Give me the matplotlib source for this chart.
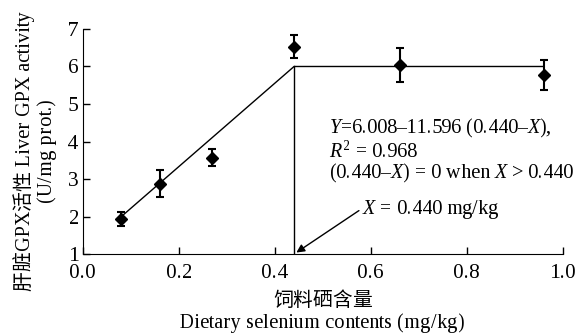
import matplotlib
matplotlib.use('Agg')
from matplotlib import pyplot as plt

plt.rcParams['font.family'] = ['Liberation Serif', 'Noto Sans CJK SC']
plt.rcParams['mathtext.fontset'] = 'custom'
plt.rcParams['mathtext.rm'] = 'Liberation Serif'
plt.rcParams['mathtext.it'] = 'Liberation Serif:italic'
plt.rcParams['text.hinting_factor'] = 1

# 观测值
selenium = [0.08, 0.16, 0.27, 0.44, 0.66, 0.96]
gpx_activity = [1.94, 2.88, 3.57, 6.53, 6.04, 5.77]
gpx_err = [0.19, 0.36, 0.23, 0.30, 0.45, 0.40]

# 折线模型
fit_x = [0.08, 0.44, 0.96]
fit_y = [2.0, 6.0, 6.0]
break_x = 0.44
break_y = 6.0

fig = plt.figure(figsize=(5.76, 3.33), dpi=100)
ax = fig.add_axes([0.144, 0.237, 0.833, 0.676])

ax.plot(fit_x, fit_y, color='black', lw=1.0)
ax.plot([break_x, break_x], [1, break_y], color='black', lw=1.0)
ax.errorbar(selenium, gpx_activity, yerr=gpx_err, fmt='D', color='black',
            ms=6, capsize=3, elinewidth=1.5, capthick=1.5)

ax.annotate('', xy=(break_x, 1.0), xytext=(0.58, 2.2),
            arrowprops=dict(arrowstyle='-|>', color='black', lw=1.0,
                            mutation_scale=12))
fs = 14.5
ax.text(0.582, 2.2, '$X$ = 0.440 mg/kg', fontsize=fs, va='center', ha='left')
ax.text(0.513, 4.36, '$Y$=6.008\u201311.596 (0.440\u2013$X$),', fontsize=fs, va='center')
ax.text(0.513, 3.72, '$R^2$ = 0.968', fontsize=fs, va='center')
ax.text(0.513, 3.16, '(0.440\u2013$X$) = 0 when $X$ > 0.440', fontsize=fs, va='center')

ax.set_xlim(0, 1.0)
ax.set_ylim(1, 7)
ax.set_xticks([0.0, 0.2, 0.4, 0.6, 0.8, 1.0])
ax.set_xticklabels(['0.0', '0.2', '0.4', '0.6', '0.8', '1.0'])
ax.set_yticks(range(1, 8))
ax.tick_params(direction='in', labelsize=15, length=5, width=1)
ax.tick_params(axis='x', pad=7)
ax.tick_params(axis='y', pad=3)
ax.spines['top'].set_visible(False)
ax.spines['right'].set_visible(False)

ax.set_xlabel('饲料硒含量\nDietary selenium contents (mg/kg)', fontsize=14.3,
              linespacing=1.2, va='center')
ax.xaxis.set_label_coords(0.5, -0.26)
ax.set_ylabel('肝脏GPX活性 Liver GPX activity\n(U/mg prot.)', fontsize=14.3,
              linespacing=1.1, va='center')
ax.yaxis.set_label_coords(-0.1, 0.46)

fig.savefig('out.png', dpi=100)
